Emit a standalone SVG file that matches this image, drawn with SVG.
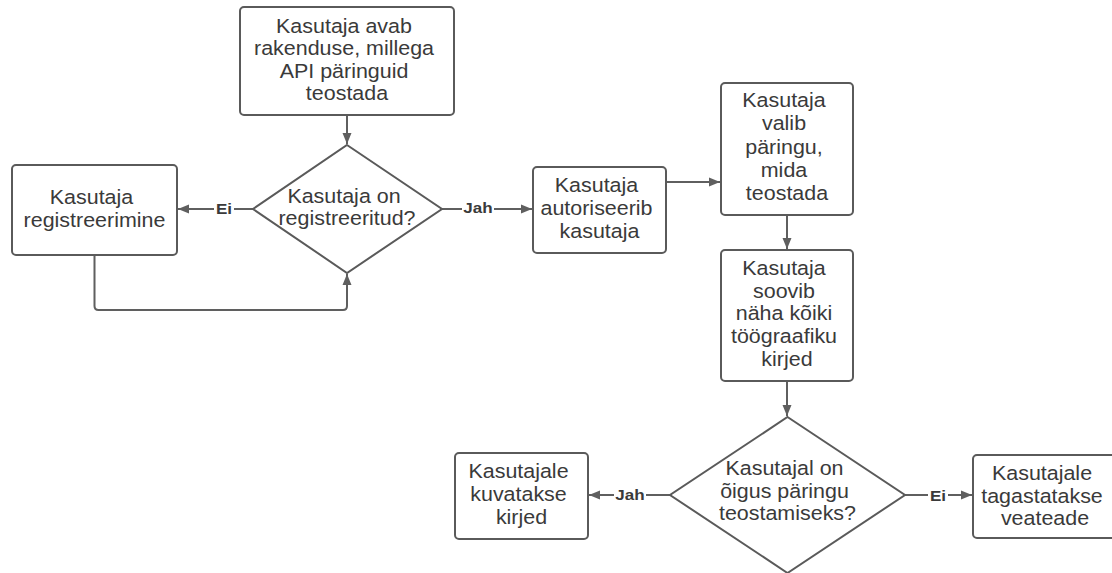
<svg xmlns="http://www.w3.org/2000/svg" width="1112" height="573" viewBox="0 0 1112 573">
  <style>
    .box { fill: #ffffff; stroke: #5a5a5a; stroke-width: 2; }
    .line { fill: none; stroke: #5f5f5f; stroke-width: 2; }
    .t { font-family: "Liberation Sans", Arial, sans-serif; font-size: 19.5px; fill: #3a3a3a; text-anchor: middle;
         transform-box: fill-box; transform-origin: center; transform: scaleX(1.1); }
    .lbl { font-family: "Liberation Sans", Arial, sans-serif; font-size: 15.5px; font-weight: bold; fill: #3a3a3a; text-anchor: middle;
           transform-box: fill-box; transform-origin: center; transform: scaleX(1.1); }
    .lblbg { fill: #ffffff; }
  </style>
  <defs>
    <marker id="arrow" markerUnits="userSpaceOnUse" markerWidth="12" markerHeight="10" refX="11" refY="5" orient="auto">
      <path d="M0,0.5 L11,5 L0,9.5 Z" fill="#5f5f5f"/>
    </marker>
  </defs>
  <rect width="1112" height="573" fill="#ffffff"/>

  <!-- connectors -->
  <g id="connectors">
    <path class="line" d="M347,115 V144" marker-end="url(#arrow)"/>
    <path class="line" d="M253,209 H178" marker-end="url(#arrow)"/>
    <path class="line" d="M94.5,255 V306 Q94.5,310 98.5,310 H343 Q347,310 347,306 V274" marker-end="url(#arrow)"/>
    <path class="line" d="M442,209 H532" marker-end="url(#arrow)"/>
    <path class="line" d="M666,182 H720" marker-end="url(#arrow)"/>
    <path class="line" d="M787,215 V249" marker-end="url(#arrow)"/>
    <path class="line" d="M787,381 V416" marker-end="url(#arrow)"/>
    <path class="line" d="M670,495 H589" marker-end="url(#arrow)"/>
    <path class="line" d="M905,495 H972" marker-end="url(#arrow)"/>

    <rect class="lblbg" x="214" y="200" width="20" height="18"/>
    <text class="lbl" x="224" y="214.5">Ei</text>
    <rect class="lblbg" x="462" y="199" width="32" height="18"/>
    <text class="lbl" x="478" y="213.5">Jah</text>
    <rect class="lblbg" x="614" y="486" width="32" height="18"/>
    <text class="lbl" x="630" y="500">Jah</text>
    <rect class="lblbg" x="928" y="487" width="20" height="18"/>
    <text class="lbl" x="938" y="501.5">Ei</text>
  </g>

  <!-- nodes -->
  <g id="start">
    <rect class="box" x="240" y="7" width="214" height="108" rx="4"/>
    <text class="t">
      <tspan x="347" y="33">Kasutaja avab</tspan>
      <tspan x="347" y="55.5">rakenduse, millega</tspan>
      <tspan x="347" y="78">API päringuid</tspan>
      <tspan x="347" y="100.5">teostada</tspan>
    </text>
  </g>

  <g id="is-registered">
    <path class="box" d="M347,145 L442,209 L347,273 L253,209 Z"/>
    <text class="t">
      <tspan x="347" y="203">Kasutaja on</tspan>
      <tspan x="347" y="225">registreeritud?</tspan>
    </text>
  </g>

  <g id="register">
    <rect class="box" x="12" y="165" width="165" height="90" rx="4"/>
    <text class="t">
      <tspan x="94.5" y="204">Kasutaja</tspan>
      <tspan x="94.5" y="227">registreerimine</tspan>
    </text>
  </g>

  <g id="authorize">
    <rect class="box" x="533" y="167" width="133" height="86" rx="4"/>
    <text class="t">
      <tspan x="599.5" y="192">Kasutaja</tspan>
      <tspan x="599.5" y="215.5">autoriseerib</tspan>
      <tspan x="599.5" y="238">kasutaja</tspan>
    </text>
  </g>

  <g id="choose-query">
    <rect class="box" x="721" y="83" width="132" height="132" rx="4"/>
    <text class="t">
      <tspan x="787" y="107">Kasutaja</tspan>
      <tspan x="787" y="130.5">valib</tspan>
      <tspan x="787" y="154">päringu,</tspan>
      <tspan x="787" y="177.5">mida</tspan>
      <tspan x="787" y="200">teostada</tspan>
    </text>
  </g>

  <g id="view-entries">
    <rect class="box" x="721" y="250" width="132" height="131" rx="4"/>
    <text class="t">
      <tspan x="787" y="275">Kasutaja</tspan>
      <tspan x="787" y="297.75">soovib</tspan>
      <tspan x="787" y="320.5">näha kõiki</tspan>
      <tspan x="787" y="343.25">töögraafiku</tspan>
      <tspan x="787" y="366">kirjed</tspan>
    </text>
  </g>

  <g id="has-permission">
    <path class="box" d="M787.5,417 L905,495 L787.5,573 L670,495 Z"/>
    <text class="t">
      <tspan x="787.5" y="475.3">Kasutajal on</tspan>
      <tspan x="787.5" y="497.8">õigus päringu</tspan>
      <tspan x="787.5" y="520.3">teostamiseks?</tspan>
    </text>
  </g>

  <g id="show-entries">
    <rect class="box" x="455" y="453" width="133" height="86" rx="4"/>
    <text class="t">
      <tspan x="521.5" y="478">Kasutajale</tspan>
      <tspan x="521.5" y="501">kuvatakse</tspan>
      <tspan x="521.5" y="524">kirjed</tspan>
    </text>
  </g>

  <g id="return-error">
    <rect class="box" x="973" y="455" width="146" height="83" rx="4"/>
    <text class="t">
      <tspan x="1045" y="480">Kasutajale</tspan>
      <tspan x="1045" y="503">tagastatakse</tspan>
      <tspan x="1045" y="525">veateade</tspan>
    </text>
  </g>
</svg>
